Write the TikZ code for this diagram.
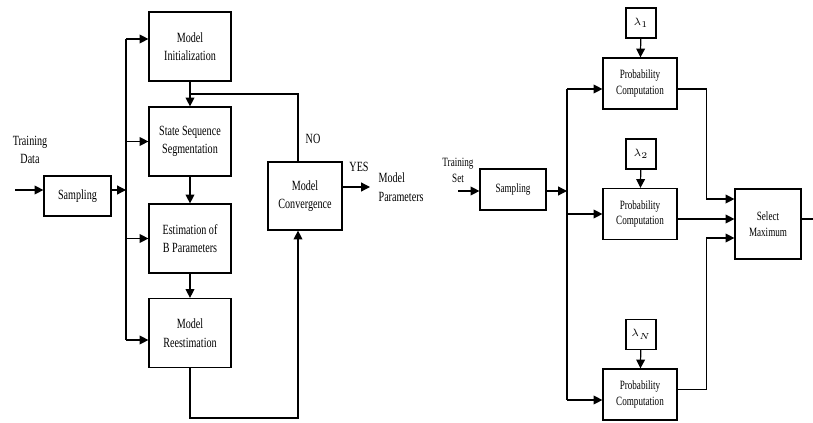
\documentclass[tikz,border=0pt]{standalone}
\usepackage{fontspec}
\setmainfont[FakeStretch=0.72]{Liberation Serif}
\usetikzlibrary{arrows.meta,calc}

\begin{document}
\begin{tikzpicture}[x=0.02cm,y=-0.02cm,line width=0.7pt,
    arr/.style={-{Triangle[length=5pt,width=5pt]}},
    lbox/.style={draw,align=center,inner sep=1pt,font=\fontsize{8pt}{10.5pt}\selectfont},
    stagebox/.style={lbox,minimum width=1.64cm,minimum height=1.38cm},
    rbox/.style={draw,align=center,inner sep=1pt,font=\fontsize{7.2pt}{9pt}\selectfont},
    probbox/.style={rbox,minimum width=1.48cm,minimum height=1.02cm},
    lambox/.style={rbox,minimum width=0.6cm,minimum height=0.6cm,font=\fontsize{6.5pt}{8pt}\selectfont},
    ltext/.style={align=center,inner sep=0pt,font=\fontsize{8pt}{10.5pt}\selectfont},
    rtext/.style={align=center,inner sep=0pt,font=\fontsize{7.2pt}{9pt}\selectfont}]
  \useasboundingbox (0,0) rectangle (813,422);

  % ---- left: training
  \node [ltext] (trainL) at (30,150) {Training\\Data};
  \coordinate (inL) at (15,190);
  \node [lbox,minimum width=1.34cm,minimum height=0.8cm] (sampL) at (77.5,196) {Sampling};
  \draw [arr] (inL) -- (inL -| sampL.west);
  % bus
  \coordinate (busLtop) at (126,39);
  \coordinate (busLbot) at (126,340);
  \draw (busLtop) -- (busLbot);
  \draw [arr] (inL -| sampL.east) -- (inL -| busLtop);
  % stages
  \node [stagebox] (init) at (190,46.5) {Model\\Initialization};
  \node [stagebox] (seg) at (190,141.5) {State Sequence\\Segmentation};
  \node [stagebox] (est) at (190,238.5) {Estimation of\\B Parameters};
  \node [stagebox] (reest) at (190,333) {Model\\Reestimation};
  \draw [arr] (busLtop) -- (busLtop -| init.west);
  \draw [arr] (busLtop |- seg.west) -- (seg.west);
  \draw [arr] (busLtop |- est.west) -- (est.west);
  \draw [arr] (busLbot) -- (busLbot -| reest.west);
  % convergence box
  \node [lbox,minimum width=1.48cm,minimum height=1.36cm] (conv) at (305,196) {Model\\Convergence};
  \node [ltext] (no) at (313,139) {NO};
  \node [ltext] (yes) at (359,167) {YES};
  \node [ltext,align=left,anchor=west] (params) at (378,187) {Model\\Parameters};
  % loop back (NO)
  \draw ([xshift=-0.14cm]conv.north) |- ($(init.south)!0.5!(seg.north)$);
  \draw [arr] (init) -- (seg);
  \draw [arr] (seg) -- (est);
  \draw [arr] (est) -- (reest);
  \draw [arr] (reest.south) -- ++(0,50) -| ([xshift=-0.14cm]conv.south);
  % YES
  \draw [arr] (conv.east |- params.west) -- ([xshift=-0.16cm]params.west);

  % ---- right: recognition
  \node [rtext] (trainR) at (458,170.5) {Training\\Set};
  \coordinate (inR) at (458,191);
  \node [rbox,minimum width=1.32cm,minimum height=0.82cm] (sampR) at (513,189.5) {Sampling};
  \draw [arr] (inR) -- (inR -| sampR.west);
  % bus
  \coordinate (busRtop) at (567,89);
  \coordinate (busRbot) at (567,400);
  \draw (busRtop) -- (busRbot);
  \draw [arr] (inR -| sampR.east) -- (inR -| busRtop);
  % models
  \node [probbox] (pc1) at (640,83.5) {Probability\\Computation};
  \node [probbox] (pc2) at (640,214) {Probability\\Computation};
  \node [probbox] (pc3) at (640,394.5) {Probability\\Computation};
  \node [lambox] (lam1) at (641,23) {$\lambda_1$};
  \node [lambox] (lam2) at (641,154) {$\lambda_2$};
  \node [lambox] (lamN) at (641,334.5) {$\lambda_N$};
  \draw [arr] (lam1) -- (pc1);
  \draw [arr] (lam2) -- (pc2);
  \draw [arr] (lamN) -- (pc3);
  \draw [arr] (busRtop) -- (busRtop -| pc1.west);
  \draw [arr] (busRtop |- pc2.west) -- (pc2.west);
  \draw [arr] (busRbot) -- (busRbot -| pc3.west);
  % select maximum
  \node [rbox,minimum width=1.32cm,minimum height=1.4cm] (sm) at (768,224) {Select\\Maximum};
  \coordinate (outR) at (813,219);
  \draw [arr] (pc1.east |- busRtop) -- ++(29,0) |- ([yshift=0.5cm]sm.west);
  \draw [arr] ([yshift=-0.1cm]pc2.east) -- ([yshift=-0.1cm]pc2.east -| sm.west);
  \draw [arr] ([yshift=0.1cm]pc3.east) -- ++(29,0) |- ([yshift=-0.28cm]sm.west);
  \draw (sm.east |- outR) -- (outR);
\end{tikzpicture}
\end{document}
